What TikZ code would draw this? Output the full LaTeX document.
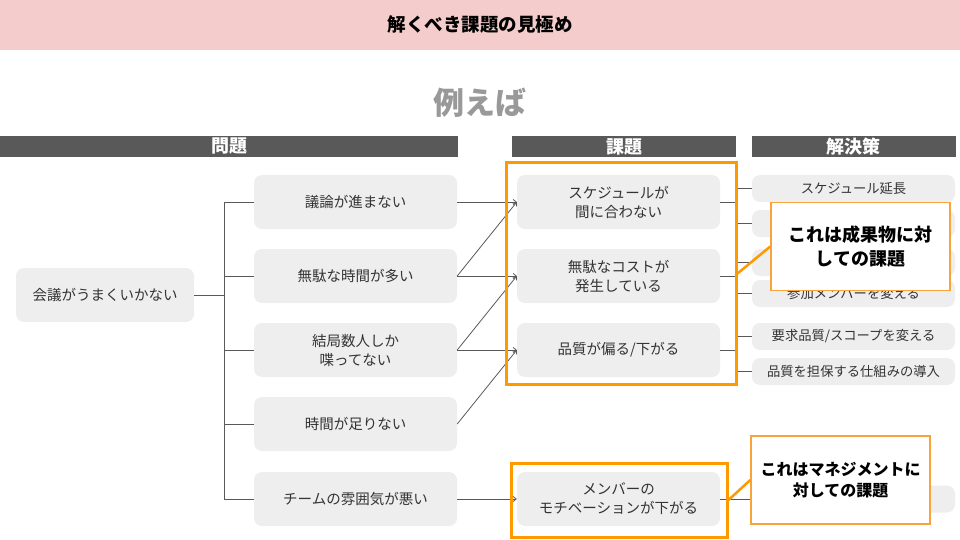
\documentclass[tikz,border=0pt]{standalone}
\usepackage{fontspec}
\setmainfont{Noto Sans CJK JP}
\usepackage{xcolor}
\usetikzlibrary{arrows.meta}
\definecolor{titlepink}{HTML}{F4CCCC}
\definecolor{bargray}{HTML}{595959}
\definecolor{boxgray}{HTML}{EEEEEE}
\definecolor{txtgray}{HTML}{333333}
\definecolor{linegray}{HTML}{595959}
\definecolor{frameorange}{HTML}{FF9900}
\definecolor{callorange}{HTML}{F9A33B}

\begin{document}
\begin{tikzpicture}[x=1pt,y=-1pt,>={Straight Barb[length=3pt,width=5pt]},
  box/.style={fill=boxgray,rounded corners=8pt,minimum width=203pt,minimum height=54pt,
    inner sep=0pt,align=center,text=txtgray,font=\fontsize{14.5}{19}\selectfont},
  solbox/.style={box,minimum height=27pt,font=\fontsize{13.3}{16}\selectfont},
  headbar/.style={fill=bargray,minimum height=21pt,inner sep=0pt,text=white,
    font=\fontsize{18}{18}\selectfont\bfseries},
  conn/.style={draw=linegray,line width=0.8pt},
  frame/.style={draw=frameorange,line width=3pt,inner sep=0pt},
  callout/.style={draw=callorange,line width=1.5pt,fill=white,inner sep=0pt,align=center,
    minimum width=179pt,minimum height=88pt,text=black},
  callline/.style={draw=frameorange,line width=2.5pt}]
\useasboundingbox (0,0) rectangle (960,540);
% title and headers
\node[fill=titlepink,minimum width=960pt,minimum height=50pt,inner sep=0pt,
  font=\fontsize{18.5}{18.5}\selectfont\bfseries] (title) at (480,25) {解くべき課題の見極め};
\node[text=black!40,font=\fontsize{31}{31}\selectfont\bfseries] (example) at (480,103) {例えば};
\node[headbar,minimum width=458pt] (hprob) at (229,146.5) {問題};
\node[headbar,minimum width=224pt] (hissue) at (624,146.5) {課題};
\node[headbar,minimum width=204pt] (hsol) at (853.5,146.5) {解決策};
% problems
\node[box,minimum width=178pt] (root) at (105,295) {会議がうまくいかない};
\node[box] (p1) at (355.5,202) {議論が進まない};
\node[box] (p2) at (355.5,276) {無駄な時間が多い};
\node[box] (p3) at (355.5,350) {結局数人しか\\喋ってない};
\node[box] (p4) at (355.5,424) {時間が足りない};
\node[box] (p5) at (355.5,499) {チームの雰囲気が悪い};
% issues
\node[box] (i1) at (618.5,202) {スケジュールが\\間に合わない};
\node[box] (i2) at (618.5,276) {無駄なコストが\\発生している};
\node[box] (i3) at (618.5,350) {品質が偏る/下がる};
\node[box] (i4) at (618.5,499) {メンバーの\\モチベーションが下がる};
% solutions
\node[solbox] (s1) at (853.5,188.5) {スケジュール延長};
\node[solbox] (s2) at (853.5,223.5) {};
\node[solbox] (s3) at (853.5,262.5) {};
\node[solbox] (s4) at (853.5,293.5) {参加メンバーを変える};
\node[solbox] (s5) at (853.5,336.5) {要求品質/スコープを変える};
\node[solbox] (s6) at (853.5,371.5) {品質を担保する仕組みの導入};
\node[solbox] (s7) at (853.5,499) {};
% tree lines
\coordinate (rb) at (224,295);
\draw[conn] (root.east) -- (rb);
\foreach \p in {p1,p2,p3,p4,p5}
  \draw[conn] (rb) |- (\p.west);
\draw[conn,->] (p1.east) -- (i1.west);
\draw[conn,->] (p2.east) -- (i1.west);
\draw[conn,->] (p2.east) -- (i2.west);
\draw[conn,->] (p3.east) -- (i2.west);
\draw[conn,->] (p3.east) -- (i3.west);
\draw[conn,->] (p4.east) -- (i3.west);
\draw[conn,->] (p5.east) -- (i4.west);
\coordinate (ib1) at (737,202);
\coordinate (ib2) at (737,276);
\coordinate (ib3) at (737,350);
\draw[conn] (i1.east) -- (ib1) (ib1) |- (s1.west) (ib1) |- (s2.west);
\draw[conn] (i2.east) -- (ib2) (ib2) |- (s3.west) (ib2) |- (s4.west);
\draw[conn] (i3.east) -- (ib3) (ib3) |- (s5.west) (ib3) |- (s6.west);
\draw[conn] (i4.east) -- (s7.west);
% orange frames and callouts
\node[frame,minimum width=230pt,minimum height=221pt] (f1) at (621,273.5) {};
\node[frame,minimum width=216pt,minimum height=74pt] (f2) at (619,500) {};
\node[callout,font=\fontsize{18}{24}\selectfont\bfseries] (c1) at (860.5,246.5)
  {これは成果物に対\\しての課題};
\node[callout,font=\fontsize{16}{21}\selectfont\bfseries] (c2) at (840.5,480)
  {これはマネジメントに\\対しての課題};
\draw[callline] (f1.east) -- (c1.west);
\draw[callline] (f2.east) -- (c2.west);
\end{tikzpicture}
\end{document}
